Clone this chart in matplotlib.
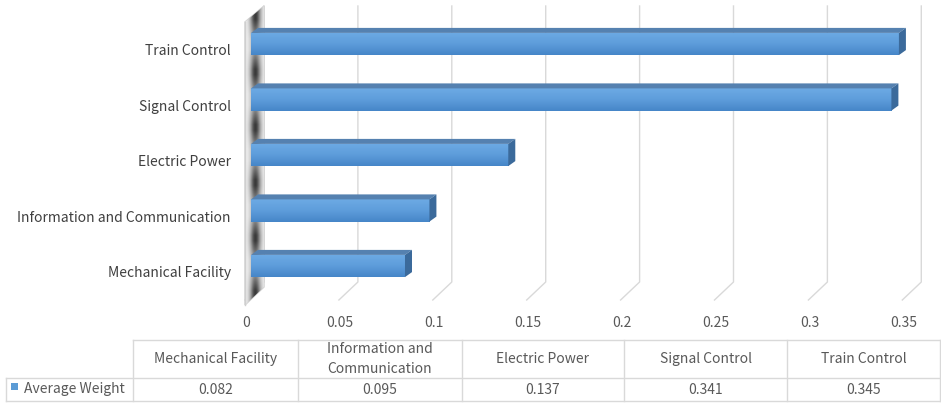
import numpy as np
import matplotlib
matplotlib.use('Agg')
import matplotlib.pyplot as plt
from matplotlib.patches import Polygon, Rectangle
from matplotlib.lines import Line2D
from matplotlib.transforms import ScaledTranslation, IdentityTransform
from matplotlib.colors import LinearSegmentedColormap

# ---------------- data ----------------
categories = ["Mechanical Facility", "Information and Communication",
              "Electric Power", "Signal Control", "Train Control"]
values = [0.082, 0.095, 0.137, 0.341, 0.345]
xticks = [0, 0.05, 0.1, 0.15, 0.2, 0.25, 0.3, 0.35]
xticklabels = ["0", "0.05", "0.1", "0.15", "0.2", "0.25", "0.3", "0.35"]
series_name = "Average Weight"
table_headers = ["Mechanical Facility", "Information and\nCommunication",
                 "Electric Power", "Signal Control", "Train Control"]

plt.rcParams['font.family'] = ['Noto Sans CJK KR', 'DejaVu Sans']

W, H = 941, 403
DPI = 100
fig = plt.figure(figsize=(W / DPI, H / DPI), dpi=DPI)
fig.patch.set_facecolor('white')

def fx(x):
    return x / W

def fy(y):
    return 1 - y / H

# axes in pixel layout; x scale ~1878 px per unit with 0 at px 251
ax_left, ax_right, ax_top, ax_bot = 240, 930, 5, 306
scale = 1878.0
x0px = 251
# y: category index 0 at px 266, spacing 55.5 px
y0px, ysp = 266.0, 55.5
ax = fig.add_axes([fx(ax_left), fy(ax_bot), (ax_right - ax_left) / W, (ax_bot - ax_top) / H])
ax.set_facecolor('none')
for s in ax.spines.values():
    s.set_visible(False)
xlim = ((ax_left - x0px) / scale, (ax_right - x0px) / scale)
ylim = (-(ax_bot - y0px) / ysp, (y0px - ax_top) / ysp)
ax.set_xlim(*xlim)
ax.set_ylim(*ylim)

def d2p(x, y):
    return ax.transData.transform((x, y))

def Y(py):  # figure pixel row (from top) -> display y
    return H - py

ID = IdentityTransform()
grid_c = '#d9d9d9'

# gridlines (back wall + floor)
for t in xticks:
    xd, _ = d2p(t, 0)
    ln = Line2D([xd - 6, xd + 13, xd + 13], [Y(300), Y(282), Y(6)], color=grid_c, lw=1.0,
                transform=ID, zorder=1, clip_on=False)
    ax.add_artist(ln)

# side wall with soft shadow
wx, _ = d2p(0, 0)
wl, wr = wx - 6, wx + 13
wall_poly = Polygon([[wl, Y(305)], [wl, Y(22)], [wr, Y(6)], [wr, Y(287)]], closed=True,
                    transform=ID, facecolor='#f4f4f4', edgecolor='#d0d0d0', lw=1.0,
                    zorder=1.4, clip_on=False)
ax.add_artist(wall_poly)
ny, nx = 400, 60
yy = np.linspace(ylim[1], ylim[0], ny)[:, None]
xx = np.linspace(0, 1, nx)[None, :]
hprof = np.exp(-((xx - 0.55) / 0.3) ** 2)
dist = np.min(np.abs(yy - np.arange(len(categories))[None, :]), axis=1)[:, None]
vprof = np.clip((dist - 0.1) / 0.35, 0, 1)
shade = hprof * (0.5 + 0.5 * vprof)
wcm = LinearSegmentedColormap.from_list('w', ['#f4f4f4', '#a0a0a0', '#3a3a3a'])
xa = (wl - d2p(0, 0)[0]) / scale
xb = (wr - d2p(0, 0)[0]) / scale
wim = ax.imshow(shade, extent=[xa, xb, ylim[0], ylim[1]], aspect='auto', cmap=wcm,
                vmin=0, vmax=1, zorder=1.5, interpolation='bilinear')
wim.set_clip_path(wall_poly)
ax.add_artist(Line2D([wl, wl], [Y(305), Y(22)], color='#cfcfcf', lw=1.0,
                     transform=ID, clip_on=False, zorder=1.6))

# bars
bh = 0.4
ypos = np.arange(len(categories))
bars = ax.barh(ypos, values, height=bh, color='#5B9BD5', edgecolor='none', zorder=3)
grad = np.linspace(0, 1, 64).reshape(-1, 1)
bcm = LinearSegmentedColormap.from_list('b', ['#6DAAE4', '#5E9DDB', '#4686C8'])
ddx, ddy = 7, 5
for b, y, v in zip(bars, ypos, values):
    im = ax.imshow(grad, extent=[0, v, y - bh / 2, y + bh / 2], aspect='auto',
                   cmap=bcm, zorder=3.1, origin='upper')
    im.set_clip_path(b)
    xl, yb = d2p(0, y - bh / 2)
    xr, yt = d2p(v, y + bh / 2)
    top = Polygon([[xl, yt], [xr, yt], [xr + ddx, yt + ddy], [xl + ddx, yt + ddy]],
                  closed=True, transform=ID, facecolor='#5581B0', edgecolor='none',
                  zorder=3.2, clip_on=False)
    side = Polygon([[xr, yb], [xr, yt], [xr + ddx, yt + ddy], [xr + ddx, yb + ddy]],
                   closed=True, transform=ID, facecolor='#3B6A9B', edgecolor='none',
                   zorder=3.2, clip_on=False)
    ax.add_artist(top)
    ax.add_artist(side)

ax.set_xlim(*xlim)
ax.set_ylim(*ylim)

txt_c = '#595959'
ax.set_xticks(xticks)
ax.set_xticklabels(xticklabels)
ax.set_yticks(ypos)
ax.set_yticklabels(categories)
ax.tick_params(axis='x', length=0, pad=7.5, labelsize=10, labelcolor=txt_c)
ax.tick_params(axis='y', length=0, pad=6.5, labelsize=10, labelcolor='#404040')
for lbl in ax.get_xticklabels():
    lbl.set_transform(lbl.get_transform() + ScaledTranslation(-5 / DPI, 0, fig.dpi_scale_trans))
for lbl in ax.get_yticklabels():
    lbl.set_transform(lbl.get_transform() + ScaledTranslation(0, -6 / DPI, fig.dpi_scale_trans))

# ---------------- data table ----------------
col_edges = [133, 298, 462, 624, 787, 941]
y_head_top, y_mid, y_bot = 340, 378, 401
lc = '#d9d9d9'

def hline(x0, x1, y):
    fig.add_artist(Line2D([fx(x0), fx(x1)], [fy(y), fy(y)], color=lc, lw=1.0))

def vline(x, y0, y1):
    fig.add_artist(Line2D([fx(x), fx(x)], [fy(y0), fy(y1)], color=lc, lw=1.0))

hline(133, 940, y_head_top)
hline(6, 940, y_mid)
hline(6, 940, y_bot)
for x in col_edges[:-1]:
    vline(x, y_head_top, y_bot)
vline(6, y_mid, y_bot)
vline(940, y_head_top, y_bot)

for i, (hd, v) in enumerate(zip(table_headers, values)):
    cx = (col_edges[i] + col_edges[i + 1]) / 2
    fig.text(fx(cx), fy((y_head_top + y_mid) / 2), hd, ha='center', va='center',
             fontsize=10, color=txt_c, linespacing=1.6)
    fig.text(fx(cx), fy((y_mid + y_bot) / 2), f"{v:.3f}", ha='center', va='center',
             fontsize=10, color=txt_c)

fig.add_artist(Rectangle((fx(11), fy(390)), 7 / W, 7 / H, facecolor='#5B9BD5',
                         edgecolor='none', transform=fig.transFigure))
fig.text(fx(24), fy((y_mid + y_bot) / 2), series_name, ha='left', va='center',
         fontsize=10, color=txt_c)

fig.savefig('out.png', dpi=DPI, facecolor='white')
